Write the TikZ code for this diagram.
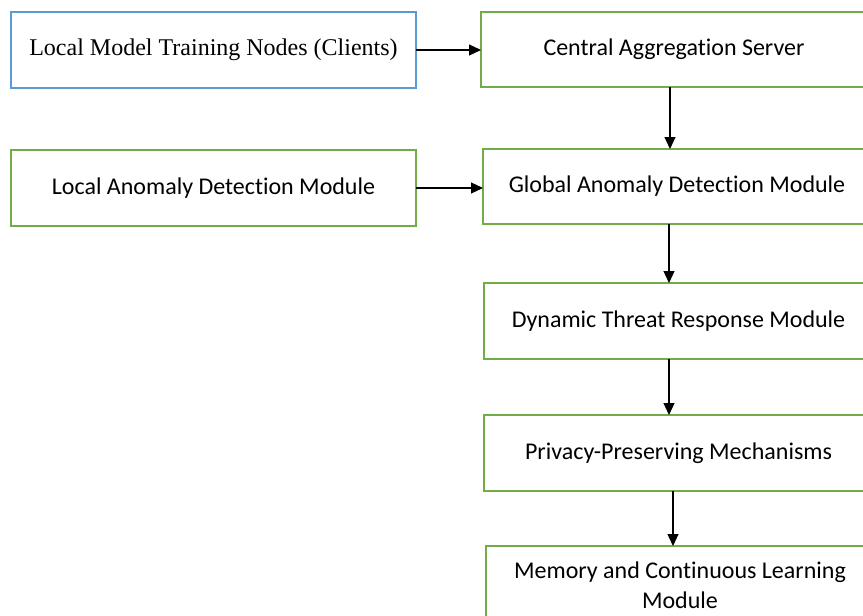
\documentclass[tikz,border=0pt]{standalone}
\usepackage{fontspec}
\setmainfont{Liberation Serif}
\newfontfamily\calfont[Ligatures=NoCommon]{Carlito}
\usetikzlibrary{arrows.meta,positioning}
\definecolor{boxblue}{RGB}{91,155,213}
\definecolor{boxgreen}{RGB}{112,173,71}
\begin{document}
\begin{tikzpicture}[x=0.5pt, y=-0.5pt,
  box/.style={draw=boxgreen, line width=1pt, fill=white, inner sep=0pt, outer sep=0pt,
    minimum height=38pt, font=\calfont\fontsize{12}{15}\selectfont, align=center},
  arr/.style={-{Triangle[length=6pt, width=5.5pt]}, line width=0.6pt}]
\path[use as bounding box, clip] (0,0) rectangle (863,616);
% left column
\node[box, draw=boxblue, minimum width=202.5pt, font=\fontsize{12}{15}\selectfont]
  (clients) at (213.5,50) {Local Model Training Nodes (Clients)};
\node[box, minimum width=202.5pt] (localad) at (213.5,188) {Local Anomaly Detection Module};
% right column
\node[box, minimum width=193pt, minimum height=37.5pt] (server) at (674,49.5) {Central Aggregation Server};
\node[box, minimum width=194pt, minimum height=37.5pt] (globalad) at (677,186.5) {Global Anomaly Detection Module};
\node[box, minimum width=194.5pt] (threat) at (678.5,321) {Dynamic Threat Response Module};
\node[box, minimum width=194.5pt] (privacy) at (678.5,453) {Privacy-Preserving Mechanisms};
\node[box, minimum width=194pt, minimum height=39pt] (memory) at (680,585) {Memory and Continuous Learning\\Module};
% horizontal links
\draw[arr] (clients.east) -- (clients.east -| server.west);
\draw[arr] (localad.east) -- (localad.east -| globalad.west);
% vertical chain
\draw[arr] ([xshift=-2pt]server.south) -- ([xshift=-2pt]server.south |- globalad.north);
\draw[arr] ([xshift=-4pt]globalad.south) -- ([xshift=-4pt]globalad.south |- threat.north);
\draw[arr] ([xshift=-4.75pt]threat.south) -- ([xshift=-4.75pt]threat.south |- privacy.north);
\draw[arr] ([xshift=-2.75pt]privacy.south) -- ([xshift=-2.75pt]privacy.south |- memory.north);
\end{tikzpicture}
\end{document}
